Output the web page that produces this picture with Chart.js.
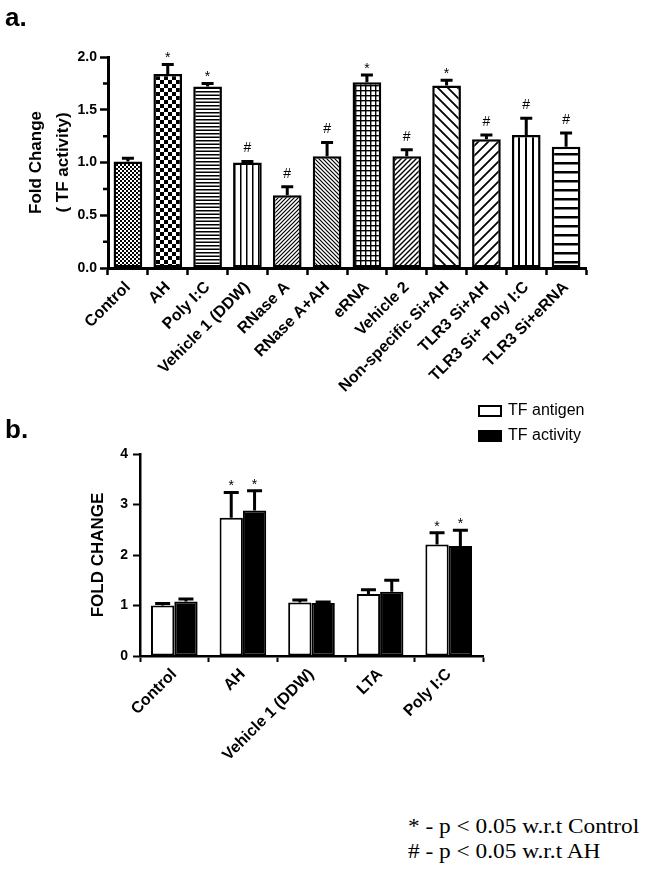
<!DOCTYPE html>
<html>
<head>
<meta charset="utf-8">
<script src="https://cdn.jsdelivr.net/npm/chart.js@4.4.1/dist/chart.umd.min.js"></script>
<style>
  body { margin: 0; background: #fff; width: 652px; height: 874px; position: relative; overflow: hidden; font-family: "Liberation Sans", Arial, sans-serif; }
  canvas { position: absolute; left: 0; }
  #chartA { top: 0; }
  #chartB { top: 395px; }
  .panel { position: absolute; font-weight: bold; font-size: 26px; line-height: 30px; }
  .note { position: absolute; left: 408px; top: 813px; font-family: "Liberation Serif", "Times New Roman", serif; font-size: 22px; line-height: 25px; white-space: nowrap; transform: scaleX(1.06); transform-origin: left top; }
</style>
</head>
<body>
<canvas id="chartA" width="652" height="420"></canvas>
<canvas id="chartB" width="652" height="410"></canvas>
<div class="panel" style="left:5px; top:2px;">a.</div>
<div class="panel" style="left:5px; top:414px;">b.</div>
<div class="note">* - p &lt; 0.05 w.r.t Control<br># - p &lt; 0.05 w.r.t AH</div>
<script>
// panel a: TF activity after each treatment
var groupsA = ["Control", "AH", "Poly I:C", "Vehicle 1 (DDW)", "RNase A", "RNase A+AH", "eRNA",
  "Vehicle 2", "Non-specific Si+AH", "TLR3 Si+AH", "TLR3 Si+ Poly I:C", "TLR3 Si+eRNA"];
var activityA = [1.01, 1.84, 1.72, 1.00, 0.69, 1.06, 1.76, 1.06, 1.73, 1.22, 1.26, 1.15];
var errorA = [0.03, 0.09, 0.03, 0.01, 0.08, 0.13, 0.07, 0.06, 0.05, 0.04, 0.16, 0.13];
var signA = ["", "*", "*", "#", "#", "#", "*", "#", "*", "#", "#", "#"];
var yTicksA = [0, 0.5, 1.0, 1.5, 2.0];
var yMinorA = [0.25, 0.75, 1.25, 1.75];

// panel b: TF antigen vs TF activity
var groupsB = ["Control", "AH", "Vehicle 1 (DDW)", "LTA", "Poly I:C"];
var antigenB = [1.00, 2.74, 1.06, 1.23, 2.21];
var antigenErrB = [0.04, 0.50, 0.05, 0.08, 0.23];
var activityB = [1.08, 2.88, 1.05, 1.27, 2.18];
var activityErrB = [0.05, 0.39, 0.02, 0.23, 0.31];
var signB = ["", "*", "", "", "*"];
var yTicksB = [0, 1, 2, 3, 4];

Chart.defaults.font.family = "'Liberation Sans', Arial, sans-serif";
Chart.defaults.color = "#000";

function makePattern(size, draw) {
  var c = document.createElement("canvas");
  c.width = size;
  c.height = size;
  var g = c.getContext("2d");
  g.fillStyle = "#fff";
  g.fillRect(0, 0, size, size);
  g.fillStyle = "#000";
  g.strokeStyle = "#000";
  draw(g, size);
  return g.createPattern(c, "repeat");
}

function diag(dir, lw) {
  return function (g, s) {
    g.lineWidth = lw;
    g.beginPath();
    if (dir > 0) {
      g.moveTo(0, s); g.lineTo(s, 0);
      g.moveTo(-s / 2, s / 2); g.lineTo(s / 2, -s / 2);
      g.moveTo(s / 2, s * 1.5); g.lineTo(s * 1.5, s / 2);
    } else {
      g.moveTo(0, 0); g.lineTo(s, s);
      g.moveTo(-s / 2, s / 2); g.lineTo(s / 2, s * 1.5);
      g.moveTo(s / 2, -s / 2); g.lineTo(s * 1.5, s / 2);
    }
    g.stroke();
  };
}

var patternsA = [
  makePattern(4, function (g) { g.fillRect(0, 0, 2, 2); g.fillRect(2, 2, 2, 2); }),
  makePattern(8, function (g) { g.fillRect(0, 0, 4, 4); g.fillRect(4, 4, 4, 4); }),
  makePattern(7, function (g) { g.fillRect(0, 0, 7, 1.5); g.fillRect(0, 3.5, 7, 1.5); }),
  makePattern(6, function (g) { g.fillRect(0, 0, 1.5, 6); }),
  makePattern(4, diag(1, 1.2)),
  makePattern(4, diag(-1, 1.2)),
  makePattern(5, function (g) { g.fillRect(0, 0, 5, 1.4); g.fillRect(0, 0, 1.4, 5); }),
  makePattern(5, diag(1, 1.4)),
  makePattern(10, diag(-1, 1.8)),
  makePattern(10, diag(1, 1.8)),
  makePattern(7, function (g) { g.fillRect(0, 0, 2, 7); }),
  makePattern(9, function (g) { g.fillRect(0, 0, 9, 2.5); })
];

// error bars + significance marks, drawn from the bar elements and y scale
var errorBars = {
  id: "errorBars",
  afterDatasetsDraw: function (chart, args, opts) {
    var ctx = chart.ctx;
    var y = chart.scales.y;
    ctx.save();
    chart.data.datasets.forEach(function (ds, d) {
      var meta = chart.getDatasetMeta(d);
      meta.data.forEach(function (bar, i) {
        var top = y.getPixelForValue(ds.data[i] + ds.errors[i]);
        ctx.strokeStyle = "#000";
        ctx.lineWidth = opts.lineWidth;
        ctx.beginPath();
        ctx.moveTo(bar.x, bar.y);
        ctx.lineTo(bar.x, top);
        ctx.moveTo(bar.x - opts.cap / 2, top);
        ctx.lineTo(bar.x + opts.cap / 2, top);
        ctx.stroke();
        var s = ds.signs[i];
        if (s) {
          ctx.fillStyle = "#000";
          ctx.font = "14px 'Liberation Sans', Arial, sans-serif";
          ctx.textAlign = "center";
          ctx.textBaseline = "alphabetic";
          ctx.fillText(s, bar.x, top - (s === "#" ? 9 : 2));
        }
      });
    });
    ctx.restore();
  }
};

var minorTicks = {
  id: "minorTicks",
  afterDraw: function (chart) {
    var ctx = chart.ctx;
    var y = chart.scales.y;
    ctx.save();
    ctx.strokeStyle = "#000";
    ctx.lineWidth = 2.5;
    ctx.beginPath();
    yMinorA.forEach(function (v) {
      var py = y.getPixelForValue(v);
      ctx.moveTo(y.right - 5, py);
      ctx.lineTo(y.right, py);
    });
    ctx.stroke();
    ctx.restore();
  }
};

var legendB = {
  id: "legendB",
  afterDraw: function (chart) {
    var ctx = chart.ctx;
    var a = chart.chartArea;
    ctx.save();
    chart.data.datasets.forEach(function (ds, i) {
      var bx = a.right - 5;
      var by = a.top - 49 + i * 25;
      ctx.fillStyle = ds.backgroundColor;
      ctx.fillRect(bx, by, 24, 12);
      ctx.strokeStyle = "#000";
      ctx.lineWidth = 2;
      ctx.strokeRect(bx + 1, by + 1, 22, 10);
      ctx.fillStyle = "#000";
      ctx.font = "16px 'Liberation Sans', Arial, sans-serif";
      ctx.textAlign = "left";
      ctx.textBaseline = "middle";
      ctx.fillText(ds.label, bx + 30, by + 6);
    });
    ctx.restore();
  }
};

var chartA = new Chart(document.getElementById("chartA"), {
  type: "bar",
  data: {
    labels: groupsA,
    datasets: [
      {
        label: "TF activity",
        data: activityA,
        errors: errorA,
        signs: signA,
        backgroundColor: patternsA,
        borderColor: "#000",
        borderWidth: 2.5,
        borderSkipped: false,
        categoryPercentage: 0.72,
        barPercentage: 1,
      },
    ],
  },
  options: {
    responsive: false,
    animation: false,
    layout: { padding: { top: 57, right: 66, left: 0, bottom: 0 } },
    plugins: {
      legend: { display: false },
      tooltip: { enabled: false },
      errorBars: { lineWidth: 3, cap: 12 },
    },
    scales: {
      x: {
        border: { color: "#000", width: 3 },
        grid: { drawOnChartArea: false, tickLength: 7, tickWidth: 2.5, tickColor: "#000" },
        ticks: { font: { size: 16, weight: "bold" }, minRotation: 45, maxRotation: 45, autoSkip: false, padding: 3 },
        afterFit: function (s) { s.height = 152; },
      },
      y: {
        min: 0,
        max: 2,
        border: { color: "#000", width: 3 },
        grid: { drawOnChartArea: false, tickLength: 8, tickWidth: 2.5, tickColor: "#000" },
        ticks: { font: { size: 14, weight: "bold" }, padding: 3, callback: function (v) { return v.toFixed(1); } },
        afterBuildTicks: function (s) { s.ticks = yTicksA.map(function (v) { return { value: v }; }); },
        title: {
          display: true,
          text: ["Fold Change", "( TF activity)"],
          font: { size: 17, weight: "bold", lineHeight: 1.6 },
          padding: { top: 23, bottom: 0 },
        },
        afterFit: function (s) { s.width = 108; },
      },
    },
  },
  plugins: [errorBars, minorTicks],
});

var chartB = new Chart(document.getElementById("chartB"), {
  type: "bar",
  data: {
    labels: groupsB,
    datasets: [
      {
        label: "TF antigen",
        data: antigenB,
        errors: antigenErrB,
        signs: signB,
        backgroundColor: "#fff",
        borderColor: "#000",
        borderWidth: 2,
        borderSkipped: false,
        categoryPercentage: 0.68,
        barPercentage: 1,
      },
      {
        label: "TF activity",
        data: activityB,
        errors: activityErrB,
        signs: signB,
        backgroundColor: "#000",
        borderColor: "#000",
        borderWidth: 2,
        borderSkipped: false,
        categoryPercentage: 0.68,
        barPercentage: 1,
      },
    ],
  },
  options: {
    responsive: false,
    animation: false,
    layout: { padding: { top: 59, right: 169, left: 0, bottom: 0 } },
    plugins: {
      legend: { display: false },
      tooltip: { enabled: false },
      errorBars: { lineWidth: 3, cap: 15 },
    },
    scales: {
      x: {
        border: { color: "#000", width: 2.5 },
        grid: { drawOnChartArea: false, tickLength: 6, tickWidth: 2, tickColor: "#000" },
        ticks: { font: { size: 16, weight: "bold" }, minRotation: 45, maxRotation: 45, autoSkip: false, padding: 3 },
        afterFit: function (s) { s.height = 149; },
      },
      y: {
        min: 0,
        max: 4,
        border: { color: "#000", width: 2.5 },
        grid: { drawOnChartArea: false, tickLength: 7, tickWidth: 2, tickColor: "#000" },
        ticks: { font: { size: 14, weight: "bold" }, padding: 5 },
        afterBuildTicks: function (s) { s.ticks = yTicksB.map(function (v) { return { value: v }; }); },
        title: {
          display: true,
          text: "FOLD CHANGE",
          font: { size: 17, weight: "bold", lineHeight: 1.2 },
          padding: { top: 88, bottom: 0 },
        },
        afterFit: function (s) { s.width = 140; },
      },
    },
  },
  plugins: [errorBars, legendB],
});
</script>
</body>
</html>
